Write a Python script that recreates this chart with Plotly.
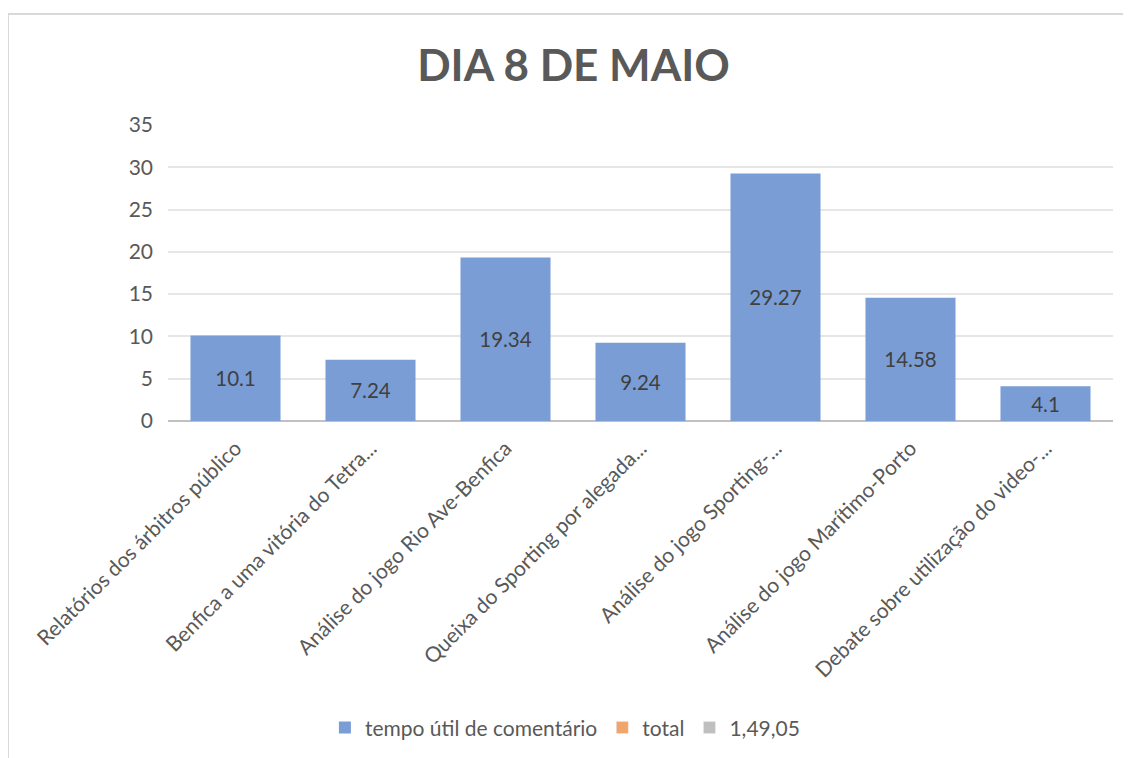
import plotly.graph_objects as go

CATEGORIES = [
    "Relatórios dos árbitros público",
    "Benfica a uma vitória do Tetra...",
    "Análise do jogo Rio Ave-Benfica",
    "Queixa do Sporting por alegada...",
    "Análise do jogo Sporting-...",
    "Análise do jogo Marítimo-Porto",
    "Debate sobre utilização do video-...",
]
TEMPO_UTIL = [10.1, 7.24, 19.34, 9.24, 29.27, 14.58, 4.1]
TOTAL = [None] * len(CATEGORIES)
SERIE_3 = [None] * len(CATEGORIES)

FONT = "Lato, 'Open Sans', sans-serif"
GREY = "#595959"

fig = go.Figure()
fig.add_trace(go.Bar(
    x=CATEGORIES, y=TEMPO_UTIL, name="tempo útil de comentário",
    marker={"color": "#7b9dd5", "line": {"width": 0}},
    text=TEMPO_UTIL, texttemplate="%{y}",
    textposition="inside", insidetextanchor="middle",
    constraintext="none",
    textfont={"size": 20.5, "color": "#404040", "family": FONT},
))
fig.add_trace(go.Bar(x=CATEGORIES, y=TOTAL, name="total",
                     marker={"color": "#f1a46c"}))
fig.add_trace(go.Bar(x=CATEGORIES, y=SERIE_3, name="1,49,05",
                     marker={"color": "#bfbfbf"}))

# the page puts the figure 8px in from the top-left corner
fig.update_layout(
    width=1131, height=758,
    margin={"l": 160, "r": 26, "t": 117, "b": 345},
    paper_bgcolor="white", plot_bgcolor="white",
    font={"family": FONT, "color": GREY, "size": 21},
    title={"text": "<b>DIA 8 DE MAIO</b>", "x": 0.5, "xanchor": "center",
           "y": 0.9235, "yanchor": "middle",
           "font": {"size": 44, "color": GREY, "family": FONT}},
    barmode="overlay", bargap=0.333,
    showlegend=True,
    legend={"orientation": "h", "x": 0.42, "xanchor": "center",
            "y": -1.037, "yanchor": "middle",
            "font": {"size": 21, "color": GREY}, "itemwidth": 30,
            "traceorder": "normal"},
    shapes=[{"type": "rect", "xref": "paper", "yref": "paper",
             "x0": -0.1693, "x1": 1.05, "y0": -1.2, "y1": 1.375,
             "line": {"color": "#d9d9d9", "width": 2}, "layer": "below"}],
)
fig.update_yaxes(range=[0, 35], dtick=5, showgrid=True, gridcolor="#e6e6e6",
                 gridwidth=1.5, zeroline=True, zerolinecolor="#c0c0c0",
                 zerolinewidth=2, showline=False, ticks="",
                 ticklabelstandoff=14, tickfont={"size": 21, "color": GREY})
fig.update_xaxes(tickangle=-45, showline=False, ticks="",
                 ticklabelstandoff=10,
                 tickfont={"size": 21, "color": GREY})

fig.write_html("out.html")
